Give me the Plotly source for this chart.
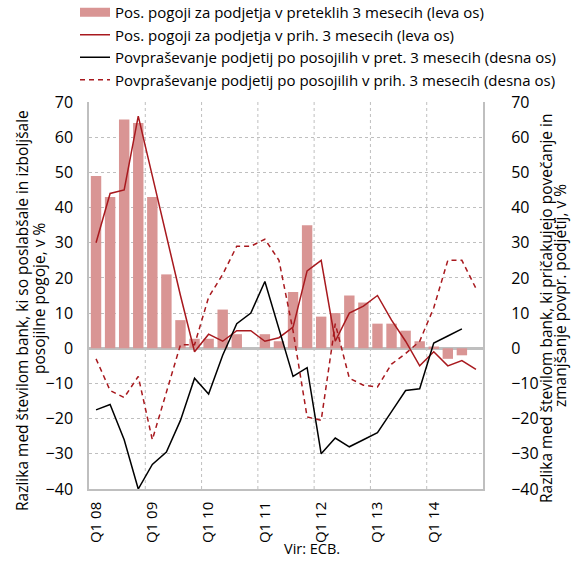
import plotly.graph_objects as go

# ---------------- data ----------------
years = ["08", "09", "10", "11", "12", "13", "14"]
quarters = [f"Q{q} {y}" for y in years for q in (1, 2, 3, 4)]
tick_labels = [f"Q1 {y}" for y in years]

bars_past = [49, 43, 65, 64, 43, 21, 8, 2.7, 2.7, 11, 4, 0, 4, 2, 16, 35,
             9, 10, 15, 13, 7, 7, 5, 2, 0.5, -3, -2, None]
cond_next = [30, 44, 45, 66, 49, 32, 15, -1, 4, 2, 5, 5, 2, 3, 6, 22,
             25, 2, 10, 12, 15, 8, 2, -5, -1, -5, -3.5, -6]
demand_past = [-17.5, -16, -26, -40, -33, -29.5, -20.5, -8.5, -13, -2, 7, 10, 19, 5.5, -8, -5.5,
               -30, -25.5, -28, -26, -24, -18, -12, -11.5, 1.5, 3.5, 5.5, None]
demand_next = [-3, -12, -14, -8, -26, -12.5, 1, 1, 14.5, 21, 29, 29, 31, 25, 5, -19.5,
               -20.5, 7, -8.5, -10.5, -11, -4.5, -1.5, 2, 11.5, 25, 25, 17]

names = [
    "Pos. pogoji za podjetja v preteklih 3 mesecih (leva os)",
    "Pos. pogoji za podjetja v prih. 3 mesecih (leva os)",
    "Povpraševanje podjetij po posojilih v pret. 3 mesecih (desna os)",
    "Povpraševanje podjetij po posojilih v prih. 3 mesecih (desna os)",
]

# ---------------- styles ----------------
BAR = "#d99594"
RED = "#a8191e"
GRID = "#bfbfbf"
FONT = "Open Sans"
CLEAR = "rgba(0,0,0,0)"

x = list(range(len(quarters)))
tickvals = [quarters.index(t) for t in tick_labels]

fig = go.Figure()
# legend-only wide swatch for the bars
fig.add_trace(go.Scatter(x=[0], y=[None], mode="lines", name=names[0],
                         line=dict(color=BAR, width=9), hoverinfo="skip"))
fig.add_trace(go.Bar(x=x, y=bars_past, marker_color=BAR, marker_line_width=0,
                     width=0.74, showlegend=False, name=names[0]))
fig.add_trace(go.Scatter(x=x, y=cond_next, mode="lines", name=names[1],
                         line=dict(color=RED, width=1.5)))
fig.add_trace(go.Scatter(x=x, y=demand_past, mode="lines", name=names[2],
                         line=dict(color="#000000", width=1.5), yaxis="y2"))
fig.add_trace(go.Scatter(x=x, y=demand_next, mode="lines", name=names[3],
                         line=dict(color=RED, width=1.5, dash="5px,4px"), yaxis="y2"))

L, R, T, B = 89, 89, 102, 72
W, H = 572, 561
pw, ph = W - L - R, H - T - B

def px(xp):
    return (xp - L) / pw

def py(yp):
    return (H - B - yp) / ph

tickfont = dict(family=FONT, size=16, color="#000")

# year-boundary gridlines
for k in range(1, len(years)):
    b = k * 4 - 0.5
    fig.add_shape(type="line", xref="x", yref="paper", x0=b, x1=b, y0=0, y1=1,
                  line=dict(color=GRID, width=1, dash="dot"), layer="below")

fig.update_layout(
    width=W, height=H, autosize=False,
    margin=dict(l=L, r=R, t=T, b=B, pad=0, autoexpand=False),
    paper_bgcolor="white", plot_bgcolor="white",
    font=dict(family=FONT, size=14, color="#000"),
    showlegend=True,
    legend=dict(x=px(75), y=py(-4), xanchor="left", yanchor="top",
                bgcolor=CLEAR,
                font=dict(family=FONT, size=15, color="#000"),
                tracegroupgap=0),
    xaxis=dict(type="linear", range=[-0.5, len(quarters) - 0.5], tickmode="array",
               tickvals=tickvals, ticktext=tick_labels,
               tickangle=-90, tickfont=dict(family=FONT, size=15, color="#000"),
               showgrid=False, zeroline=False,
               showline=True, linecolor=GRID, linewidth=1.5,
               ticks="outside", ticklen=5, tickcolor=CLEAR),
    yaxis=dict(type="linear", range=[-40, 70], dtick=10, tickfont=tickfont, showgrid=True,
               gridcolor=GRID, griddash="dot", gridwidth=1,
               zeroline=True, zerolinecolor=GRID, zerolinewidth=2.5,
               showline=True, linecolor=GRID, linewidth=1.5,
               ticks="outside", ticklen=11, tickcolor=CLEAR),
    yaxis2=dict(type="linear", range=[-40, 70], dtick=10, tickfont=tickfont,
                overlaying="y", side="right",
                showgrid=False, zeroline=False, showline=True, linecolor=GRID,
                linewidth=2, ticks="outside", ticklen=23, tickcolor=CLEAR),
)

ann_font = dict(family=FONT, size=15.5, color="#000")
fig.add_annotation(text="Razlika med številom bank, ki so poslabšale in izboljšale",
                   xref="paper", yref="paper", x=px(22), y=py(311), textangle=-90,
                   showarrow=False, font=ann_font, xanchor="center", yanchor="middle")
fig.add_annotation(text="posojilne pogoje, v %",
                   xref="paper", yref="paper", x=px(39), y=py(299), textangle=-90,
                   showarrow=False, font=ann_font, xanchor="center", yanchor="middle")
fig.add_annotation(text="Razlika med številom bank, ki pričakujejo povečanje in",
                   xref="paper", yref="paper", x=px(546), y=py(308), textangle=-90,
                   showarrow=False, font=ann_font, xanchor="center", yanchor="middle")
fig.add_annotation(text="zmanjšanje povpr. podjetij, v %",
                   xref="paper", yref="paper", x=px(560), y=py(296), textangle=-90,
                   showarrow=False, font=ann_font, xanchor="center", yanchor="middle")
fig.add_annotation(text="Vir: ECB.", xref="paper", yref="paper", x=px(312), y=py(548),
                   showarrow=False, font=dict(family=FONT, size=14.5, color="#000"),
                   xanchor="center", yanchor="middle")

fig.write_html("out.html", config={"displayModeBar": False},
               post_script="document.body.style.margin='0px';document.body.style.overflow='hidden';")
